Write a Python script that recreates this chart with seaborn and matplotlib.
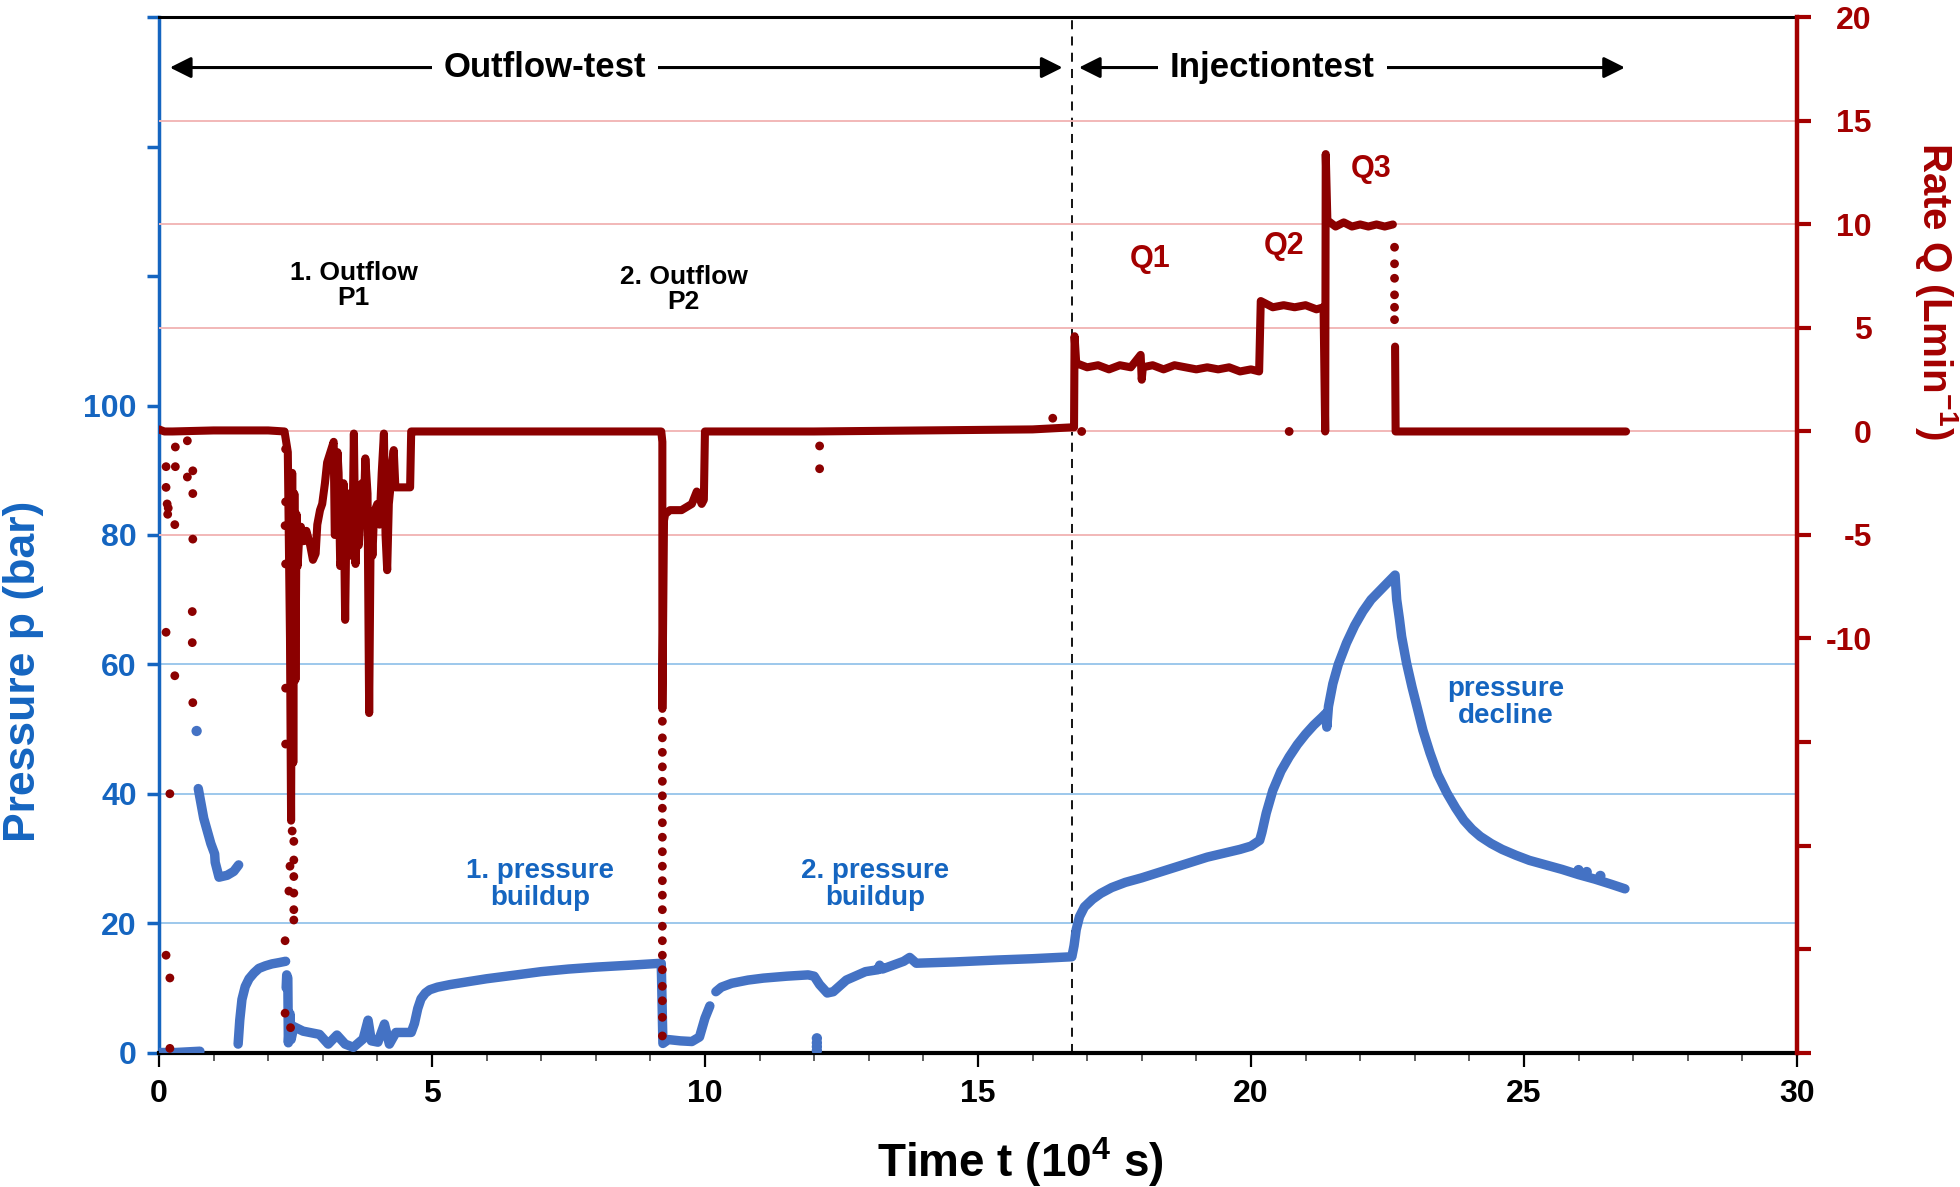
import numpy as np
import pandas as pd
import matplotlib
matplotlib.use('Agg')
import matplotlib.pyplot as plt
from matplotlib.ticker import MultipleLocator
import seaborn as sns

# ---------------------------------------------------------
# Pressure p (bar): continuous stretches of the blue trace
# ---------------------------------------------------------
p_start_t = [0.00, 0.30, 0.75]
p_start = [0.0, 0.0, 0.2]

p_early_t = [0.72, 0.82, 0.95, 1.02, 1.03, 1.10, 1.25, 1.37, 1.46]
p_early = [40.8, 36.2, 32.3, 30.7, 29.4, 27.1, 27.4, 28.0, 29.0]

p_rise_t = [1.45, 1.48, 1.52, 1.58, 1.65, 1.74, 1.83, 1.95, 2.07, 2.20, 2.32]
p_rise = [1.3, 5.0, 8.2, 10.2, 11.4, 12.3, 13.0, 13.4, 13.7, 13.9, 14.1]

# outflow 1, first buildup, outflow 2
p_out_t = [2.33, 2.34, 2.36, 2.37, 2.40, 2.42, 2.47, 2.64, 2.94, 3.10, 3.26, 3.41,
           3.56, 3.74, 3.83, 3.89, 4.01, 4.13, 4.22, 4.34, 4.62, 4.68, 4.74, 4.80,
           4.88, 4.96, 5.10, 5.33, 5.70, 6.00, 6.55, 7.00, 7.50, 8.00, 8.63, 9.20,
           9.23, 9.33, 9.55, 9.76, 9.90, 10.00, 10.09]
p_out = [10.0, 12.0, 11.5, 1.5, 6.0, 2.0, 4.0, 3.3, 2.8, 1.3, 2.7, 1.3,
         0.8, 2.1, 5.0, 1.8, 1.6, 4.4, 1.3, 3.1, 3.1, 4.5, 6.8, 8.3,
         9.2, 9.7, 10.1, 10.5, 11.0, 11.4, 12.0, 12.5, 12.9, 13.2, 13.5, 13.8,
         1.4, 2.0, 1.8, 1.7, 2.4, 5.3, 7.2]

# second buildup and injection test
p_inj_t = [10.20, 10.30, 10.49, 10.79, 11.07, 11.50, 11.89, 12.00, 12.10, 12.24,
           12.35, 12.59, 12.94, 13.17, 13.20, 13.25, 13.64, 13.75, 13.87, 14.57,
           15.36, 16.00, 16.72, 16.76, 16.80, 16.86, 16.95, 17.10, 17.25, 17.45,
           17.70, 18.00, 18.30, 18.60, 18.90, 19.20, 19.50, 19.80, 20.00, 20.16,
           20.20, 20.28, 20.40, 20.55, 20.70, 20.85, 21.00, 21.15, 21.30, 21.37,
           21.39, 21.42, 21.50, 21.60, 21.75, 21.90, 22.05, 22.20, 22.35, 22.50,
           22.64, 22.67, 22.72, 22.76, 22.85, 22.95, 23.04, 23.15, 23.28, 23.42,
           23.59, 23.75, 23.90, 24.05, 24.20, 24.40, 24.60, 24.85, 25.10, 25.40,
           25.70, 26.00, 26.30, 26.60, 26.85]
p_inj = [9.4, 10.1, 10.7, 11.2, 11.5, 11.8, 12.0, 11.8, 10.5, 9.2,
         9.4, 11.2, 12.5, 12.8, 13.5, 12.9, 14.1, 14.7, 13.8, 14.0,
         14.3, 14.5, 14.8, 16.5, 19.0, 21.0, 22.5, 23.7, 24.6, 25.5,
         26.3, 27.0, 27.8, 28.6, 29.4, 30.2, 30.8, 31.4, 31.9, 32.8,
         34.0, 37.0, 40.5, 43.5, 45.7, 47.6, 49.2, 50.6, 51.8, 52.4,
         50.3, 53.5, 57.0, 60.0, 63.3, 66.0, 68.2, 70.0, 71.3, 72.6,
         73.8, 70.0, 67.0, 64.3, 60.2, 56.5, 53.5, 49.8, 46.3, 43.0,
         40.1, 37.8, 35.9, 34.5, 33.4, 32.3, 31.4, 30.5, 29.7, 29.0,
         28.3, 27.5, 26.8, 26.0, 25.3]

# isolated blue points
p_dot_t = [0.69, 12.05, 12.05, 12.05, 12.05, 26.00, 26.15, 26.40]
p_dot = [49.7, 0.3, 0.9, 1.5, 2.2, 28.2, 27.9, 27.3]

# ---------------------------------------------------------
# Rate Q (L/min): dense dark red trace
# ---------------------------------------------------------
r_pre_t = [0.00, 0.10, 0.25, 1.00, 2.00, 2.30]
r_pre = [0.1, 0.0, 0.0, 0.05, 0.05, 0.0]

r_out1_t = [2.36, 2.40, 2.42, 2.44, 2.46, 2.48, 2.50, 2.52, 2.54, 2.56,
            2.60, 2.65, 2.70, 2.77, 2.82, 2.87, 2.90, 2.95, 2.99, 3.04,
            3.08, 3.14, 3.20, 3.22, 3.24, 3.27, 3.29, 3.32, 3.35, 3.38,
            3.41, 3.44, 3.47, 3.50, 3.54, 3.57, 3.60, 3.63, 3.66, 3.69,
            3.72, 3.75, 3.78, 3.82, 3.85, 3.88, 3.91, 3.94, 4.00, 4.04,
            4.08, 4.12, 4.15, 4.18, 4.21, 4.24, 4.27, 4.30, 4.33, 4.60,
            4.62]
r_out1 = [-1.0, -10.0, -18.8, -2.0, -16.0, -3.0, -12.0, -4.0, -6.5, -5.5,
          -4.6, -5.3, -4.8, -5.5, -6.2, -5.9, -4.5, -3.8, -3.5, -2.5,
          -1.5, -1.0, -0.5, -5.0, -4.9, -1.0, -2.0, -6.5, -6.0, -2.5,
          -9.1, -3.0, -3.0, -6.0, -5.7, -0.1, -6.4, -4.5, -5.5, -4.1,
          -2.5, -4.0, -1.3, -3.0, -13.6, -4.0, -6.0, -3.9, -3.5, -4.5,
          -2.0, -0.1, -5.0, -6.7, -3.5, -2.7, -1.5, -0.9, -2.7, -2.7,
          0.0]

r_mid_t = [4.66, 6.00, 8.00, 9.20]
r_mid = [0.0, 0.0, 0.0, 0.0]

r_out2_t = [9.22, 9.22, 9.25, 9.27, 9.36, 9.57, 9.76, 9.85, 9.94, 9.98, 10.00]
r_out2 = [-0.5, -13.4, -4.3, -4.0, -3.8, -3.8, -3.5, -2.9, -3.5, -3.3, 0.0]

r_shut_t = [10.00, 12.00, 14.00, 16.00, 16.72]
r_shut = [0.0, 0.0, 0.05, 0.1, 0.2]

r_inj_t = [16.76, 16.77, 16.80, 17.00, 17.20, 17.40, 17.60, 17.80, 17.98, 18.00,
           18.02, 18.20, 18.40, 18.60, 18.80, 19.00, 19.20, 19.40, 19.60, 19.80,
           20.00, 20.15, 20.18, 20.40, 20.60, 20.80, 21.00, 21.20, 21.33, 21.36,
           21.37, 21.40, 21.55, 21.70, 21.85, 22.00, 22.15, 22.30, 22.45, 22.60]
r_inj = [0.2, 4.6, 3.3, 3.1, 3.2, 3.0, 3.2, 3.1, 3.7, 2.5,
         3.1, 3.2, 3.0, 3.2, 3.1, 3.0, 3.1, 3.0, 3.1, 2.9,
         3.0, 2.9, 6.3, 6.0, 6.1, 6.0, 6.1, 5.9, 6.0, 0.0,
         13.4, 10.2, 9.9, 10.1, 9.9, 10.0, 9.9, 10.0, 9.9, 10.0]

r_tail_t = [22.64, 22.65, 22.80, 24.00, 26.00, 26.87]
r_tail = [4.1, 0.0, 0.0, 0.0, 0.0, 0.0]

# isolated red points
r_dot_t = [0.13, 0.13, 0.15, 0.16, 0.17, 0.29, 0.30, 0.30, 0.13, 0.29, 0.20, 0.13,
           0.20, 0.20, 0.52, 0.52, 0.62, 0.62, 0.62, 0.61, 0.61, 0.62,
           2.32, 2.32, 2.31, 2.32, 2.32, 2.32, 2.40, 2.38, 2.31, 2.31, 2.41,
           2.44, 2.47, 2.47, 2.47, 2.47, 2.47, 2.47,
           9.22, 9.22, 9.22, 9.22, 9.22, 9.22, 9.22, 9.22, 9.22, 9.22, 9.22,
           9.22, 9.22, 9.22, 9.22, 9.22, 9.22, 9.22, 9.22, 9.22, 9.22, 9.22,
           12.10, 12.10, 16.37, 16.90, 20.70,
           22.63, 22.63, 22.63, 22.63, 22.63, 22.63]
r_dot = [-1.7, -2.7, -3.5, -4.0, -3.7, -4.5, -0.75, -1.7, -9.7, -11.8, -17.5, -25.3,
         -26.4, -29.8, -0.45, -2.2, -1.9, -3.0, -5.2, -8.7, -10.2, -13.1,
         -0.85, -3.4, -4.55, -6.4, -12.4, -15.1, -21.0, -22.2, -24.6, -28.1, -28.8,
         -19.3, -19.8, -20.7, -21.5, -22.3, -23.1, -23.6,
         -14.0, -14.8, -15.5, -16.2, -16.9, -17.6, -18.2, -18.9, -19.6, -20.3, -21.0,
         -21.7, -22.4, -23.1, -23.9, -24.6, -25.3, -26.0, -26.8, -27.5, -28.3, -29.2,
         -0.7, -1.8, 0.64, 0.0, 0.0,
         8.9, 8.1, 7.4, 6.6, 6.0, 5.4]

# axis ticks / grid
p_ticks = [0, 20, 40, 60, 80, 100, 120, 140, 160]
p_ticklabels = ['0', '20', '40', '60', '80', '100', '', '', '']
p_grid = [20, 40, 60]
q_ticks = [-30, -25, -20, -15, -10, -5, 0, 5, 10, 15, 20]
q_ticklabels = ['', '', '', '', '-10', '-5', '0', '5', '10', '15', '20']
q_grid = [-5, 0, 5, 10, 15]

BLUE_LINE = '#4472C4'
BLUE_TXT = '#1565C0'
RED_DOT = '#8B0000'
RED_AX = '#A30000'
GRID_BLUE = '#9DC8EC'
GRID_PINK = '#F2B8B8'

# build frames
pressure = pd.concat([
    pd.DataFrame({'t': p_start_t, 'p': p_start, 'seg': 0}),
    pd.DataFrame({'t': p_early_t, 'p': p_early, 'seg': 1}),
    pd.DataFrame({'t': p_rise_t, 'p': p_rise, 'seg': 2}),
    pd.DataFrame({'t': p_out_t, 'p': p_out, 'seg': 3}),
    pd.DataFrame({'t': p_inj_t, 'p': p_inj, 'seg': 4}),
], ignore_index=True)

rate_main_t = r_pre_t + r_out1_t + r_mid_t + r_out2_t + r_shut_t + r_inj_t
rate_main = r_pre + r_out1 + r_mid + r_out2 + r_shut + r_inj
rate = pd.concat([
    pd.DataFrame({'t': rate_main_t, 'q': rate_main, 'seg': 0}),
    pd.DataFrame({'t': r_tail_t, 'q': r_tail, 'seg': 1}),
], ignore_index=True)

# ---------------------------------------------------------
# Plot
# ---------------------------------------------------------
sns.set_style('white')
plt.rcParams['font.family'] = ['Liberation Sans', 'DejaVu Sans']
plt.rcParams['font.weight'] = 'bold'
plt.rcParams['axes.labelweight'] = 'bold'
plt.rcParams['mathtext.fontset'] = 'custom'
plt.rcParams['mathtext.rm'] = 'Liberation Sans:bold'
plt.rcParams['mathtext.it'] = 'Liberation Sans:bold'
plt.rcParams['mathtext.bf'] = 'Liberation Sans:bold'
plt.rcParams['mathtext.default'] = 'rm'

fig, ax = plt.subplots(figsize=(19.6, 11.87), dpi=100)
fig.subplots_adjust(left=0.0811, right=0.9168, bottom=0.1133, top=0.9853)
ax2 = ax.twinx()

ax.set_xlim(0, 30)
ax.set_ylim(0, 160)
ax2.set_ylim(-30, 20)

for v in p_grid:
    ax.axhline(v, color=GRID_BLUE, lw=1.4, zorder=0)
for v in q_grid:
    ax2.axhline(v, color=GRID_PINK, lw=1.4, zorder=0)

ax.axvline(16.73, color='black', lw=1.3, ls=(0, (5, 4)), zorder=1)

sns.lineplot(data=pressure, x='t', y='p', units='seg', estimator=None, sort=False,
             ax=ax, color=BLUE_LINE, linewidth=6.8, solid_capstyle='round',
             solid_joinstyle='round', zorder=3)
sns.scatterplot(x=p_dot_t, y=p_dot, ax=ax, color=BLUE_LINE, s=55, edgecolor='none', zorder=3)

sns.lineplot(data=rate, x='t', y='q', units='seg', estimator=None, sort=False,
             ax=ax2, color=RED_DOT, linewidth=5.8, solid_capstyle='round',
             solid_joinstyle='round', zorder=3)
sns.scatterplot(x=r_dot_t, y=r_dot, ax=ax2, color=RED_DOT, s=40, edgecolor='none', zorder=3)

# ticks
ax.set_yticks(p_ticks)
ax.set_yticklabels(p_ticklabels)
ax.tick_params(axis='y', colors=BLUE_TXT, length=9, width=2.5, labelsize=23, pad=7,
               direction='out', left=True)
ax.xaxis.set_major_locator(MultipleLocator(5))
ax.xaxis.set_minor_locator(MultipleLocator(1))
ax.tick_params(axis='x', which='major', length=10, width=1.6, labelsize=23, pad=9,
               direction='out', colors='black', bottom=True)
ax.tick_params(axis='x', which='minor', length=6, width=1.2, direction='out',
               color='#444444', bottom=True)

ax2.set_yticks(q_ticks)
ax2.set_yticklabels(q_ticklabels, ha='right')
ax2.tick_params(axis='y', colors=RED_AX, length=10, width=3, labelsize=23, pad=44,
                direction='out', right=True)

# spines
ax.spines['left'].set_color(BLUE_TXT)
ax.spines['left'].set_linewidth(2.5)
ax.spines['top'].set_color('black')
ax.spines['top'].set_linewidth(2.2)
ax.spines['bottom'].set_color('black')
ax.spines['bottom'].set_linewidth(3)
ax.spines['right'].set_visible(False)
for s in ['left', 'top', 'bottom']:
    ax2.spines[s].set_visible(False)
ax2.spines['right'].set_color(RED_AX)
ax2.spines['right'].set_linewidth(3.2)

# axis labels
ax.set_xlabel('Time t (10$^{4}$ s)', fontsize=33, color='black')
ax.xaxis.label.set_va('center')
ax.xaxis.set_label_coords(0.526, -0.106)
ax.set_ylabel('Pressure p (bar)', fontsize=32, color=BLUE_TXT)
ax.yaxis.label.set_va('center')
ax.yaxis.set_label_coords(-0.083, 0.368)
ax2.set_ylabel('Rate Q (Lmin$^{-1}$)', fontsize=29, color=RED_AX, rotation=270)
ax2.yaxis.label.set_va('center')
ax2.yaxis.set_label_coords(1.0855, 0.736)

# phase arrows
arrow_kw = dict(arrowstyle='<|-|>', color='black', lw=2.2, mutation_scale=32,
                shrinkA=0, shrinkB=0)
ax2.annotate('', xy=(0.2, 17.58), xytext=(16.55, 17.58), arrowprops=arrow_kw, zorder=4)
ax2.annotate('', xy=(16.85, 17.58), xytext=(26.85, 17.58), arrowprops=arrow_kw, zorder=4)
box = dict(boxstyle='square,pad=0.35', facecolor='white', edgecolor='none')
ax2.text(7.07, 17.58, 'Outflow-test', ha='center', va='center', fontsize=25,
         color='black', bbox=box, zorder=5)
ax2.text(20.39, 17.58, 'Injectiontest', ha='center', va='center', fontsize=25,
         color='black', bbox=box, zorder=5)

# annotations
ax.text(3.57, 118.5, '1. Outflow\nP1', ha='center', va='center', fontsize=19,
        color='black', linespacing=1.05)
ax.text(9.61, 118.0, '2. Outflow\nP2', ha='center', va='center', fontsize=19,
        color='black', linespacing=1.05)
ax.text(6.98, 25.9, '1. pressure\nbuildup', ha='center', va='center', fontsize=20,
        color=BLUE_TXT, linespacing=1.05)
ax.text(13.11, 25.9, '2. pressure\nbuildup', ha='center', va='center', fontsize=20,
        color=BLUE_TXT, linespacing=1.05)
ax.text(24.67, 54.1, 'pressure\ndecline', ha='center', va='center', fontsize=20,
        color=BLUE_TXT, linespacing=1.05)
ax2.text(18.15, 8.35, 'Q1', ha='center', va='center', fontsize=22, color=RED_AX)
ax2.text(20.60, 8.95, 'Q2', ha='center', va='center', fontsize=22, color=RED_AX)
ax2.text(22.20, 12.70, 'Q3', ha='center', va='center', fontsize=22, color=RED_AX)

fig.savefig('out.png', dpi=100)
